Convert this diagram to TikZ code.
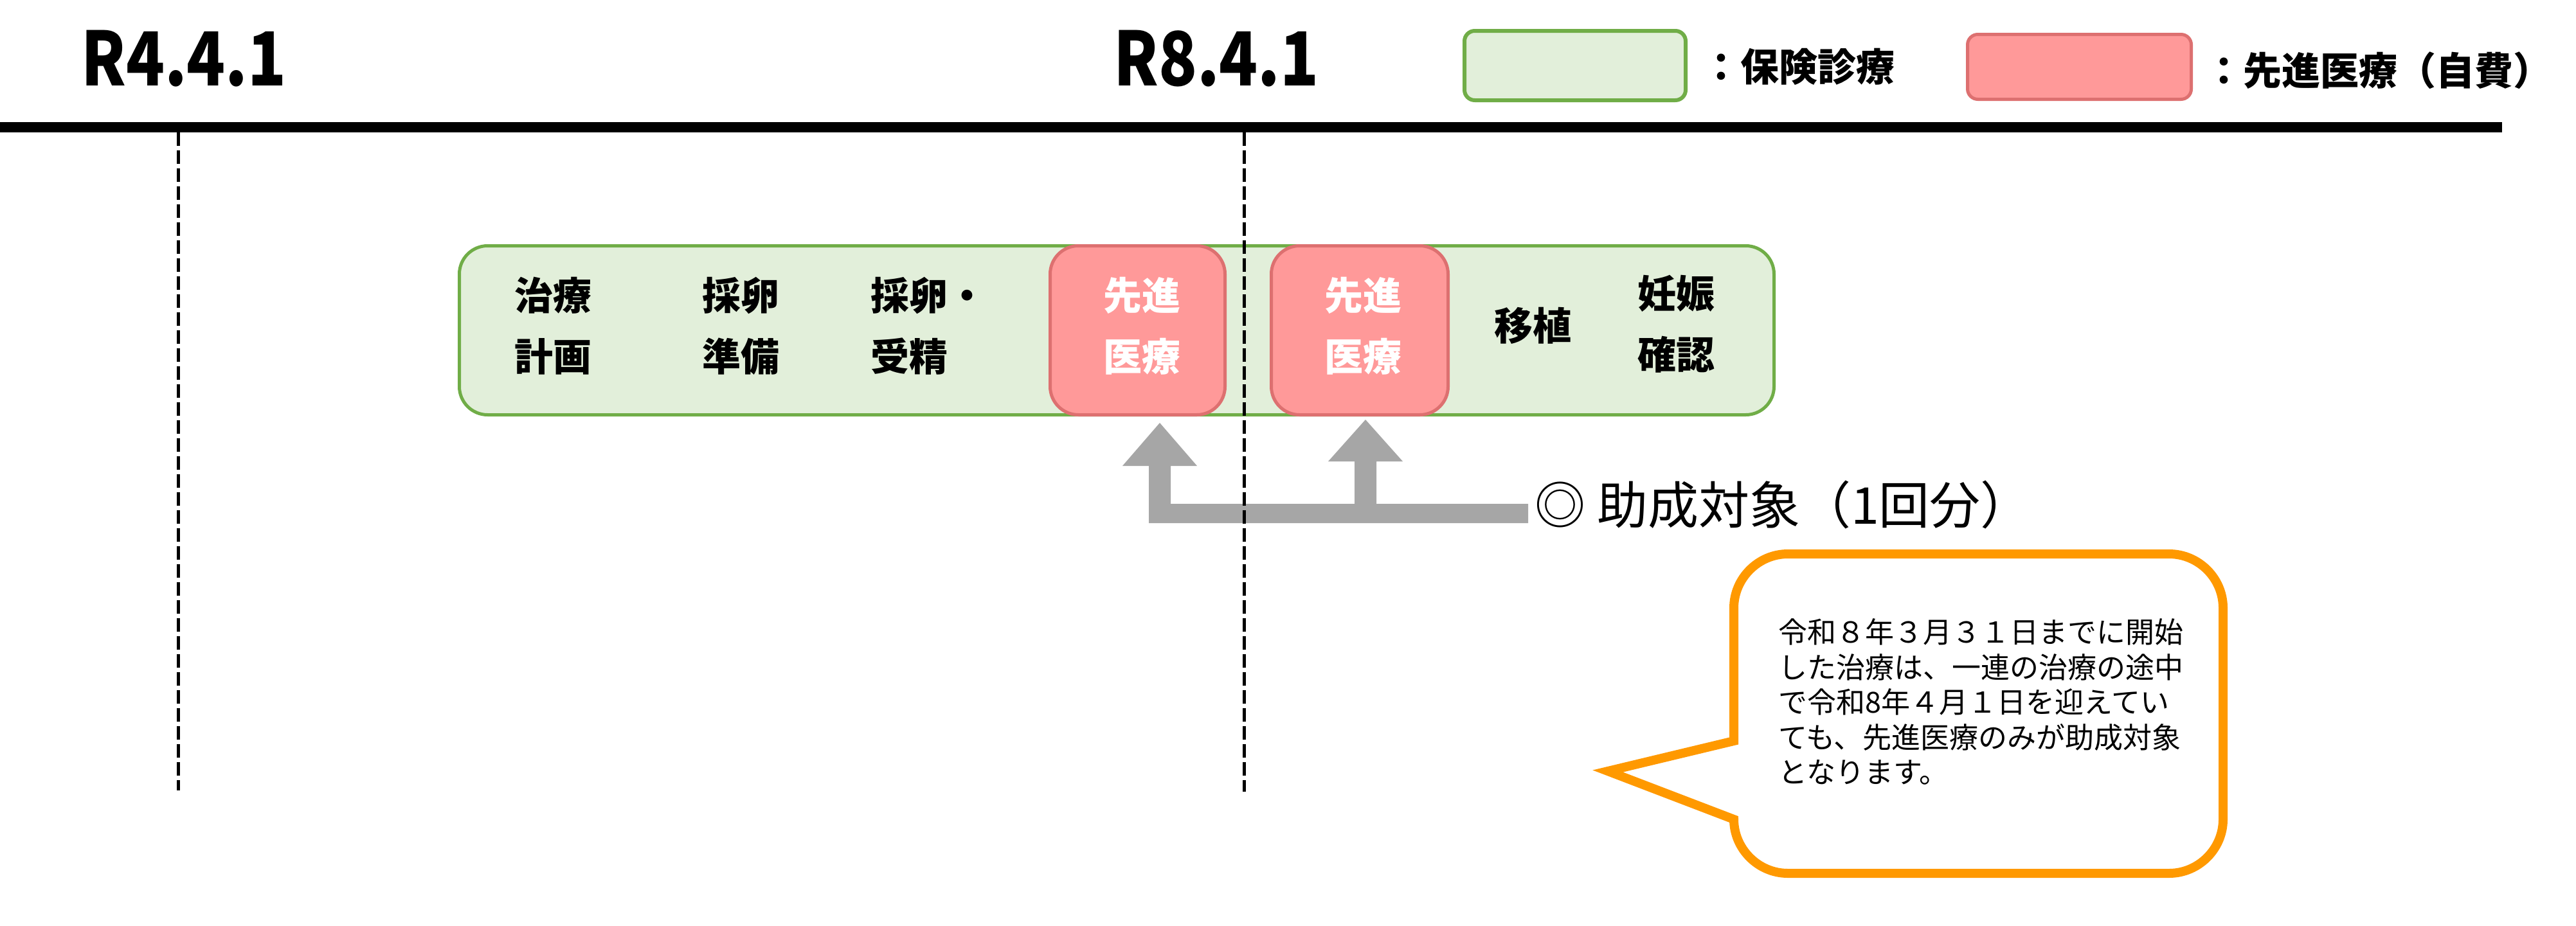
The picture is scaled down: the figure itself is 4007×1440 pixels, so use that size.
\documentclass[tikz,border=0pt]{standalone}
\usepackage{fontspec}
\setmainfont{Noto Sans CJK JP}
\definecolor{gfill}{HTML}{E2EFDA}
\definecolor{gline}{HTML}{70AD47}
\definecolor{rfill}{HTML}{FF9999}
\definecolor{rline}{HTML}{DD7070}
\definecolor{agray}{HTML}{A6A6A6}
\definecolor{corange}{HTML}{FF9900}
\tikzset{
  gbox/.style={draw=gline, fill=gfill, line width=2.5pt, rounded corners=22pt, inner sep=0pt},
  rbox/.style={draw=rline, fill=rfill, line width=2.5pt, rounded corners=22pt, inner sep=0pt},
  legg/.style={draw=gline, fill=gfill, line width=3pt, rounded corners=8pt, inner sep=0pt},
  legr/.style={draw=rline, fill=rfill, line width=2.5pt, rounded corners=8pt, inner sep=0pt},
  lbl/.style={font=\bfseries\fontsize{30pt}{47.5pt}\selectfont, align=center, inner sep=0pt},
  wlbl/.style={lbl, text=white},
  head/.style={font=\bfseries\fontsize{58pt}{60pt}\selectfont, inner sep=0pt},
  marker/.style={line width=2.5pt, dash pattern=on 10.5pt off 3.5pt},
  callout/.style={draw=corange, fill=white, line width=7pt, line join=miter},
  notetext/.style={font=\fontsize{22.5pt}{27.25pt}\selectfont, align=left, inner sep=0pt},
}
\begin{document}
\begin{tikzpicture}[x=0.5pt, y=-0.5pt]
\useasboundingbox (0,0) rectangle (4007,1440);

% headings
\node[head] (h1) at (286,91) {\scalebox{0.85}[1]{R4.4.1}};
\node[head] (h2) at (1892,91) {\scalebox{0.85}[1]{R8.4.1}};

% legend
\node[legg, minimum width=172pt, minimum height=54pt] (lg) at (2450,102) {};
\node[lbl, anchor=west] (lgt) at (2647,104) {：保険診療};
\node[legr, minimum width=174pt, minimum height=50.5pt] (lr) at (3234.5,104) {};
\node[lbl, anchor=west] (lrt) at (3429,110) {：先進医療（自費）};

% axis
\coordinate (axL) at (0,198);
\coordinate (axR) at (3892,198);
\draw[line width=8pt] (axL) -- (axR);

% main bar
\node[gbox, minimum width=1022.5pt, minimum height=131.5pt] (main) at (1737,514) {};
\node[rbox, minimum width=136pt, minimum height=131.5pt] (red1) at (1769.5,514) {};
\node[rbox, minimum width=137.5pt, minimum height=131.5pt] (red2) at (2115,514) {};

\node[lbl] (s1) at (860,507) {治療\\計画};
\node[lbl] (s2) at (1152,507) {採卵\\準備};
\node[lbl, align=left, anchor=west] (s3) at (1354,507) {採卵・\\受精};
\node[wlbl] (s4) at (1776,507) {先進\\医療};
\node[wlbl] (s5) at (2120,507) {先進\\医療};
\node[lbl] (s6) at (2384,507) {移植};
\node[lbl] (s7) at (2607,504) {妊娠\\確認};

% gray block arrows
\fill[agray] (1787,814) -- (1787,725) -- (1746,725) -- (1804,658) -- (1862,725)
  -- (1821,725) -- (1821,784) -- (2107,784) -- (2107,718) -- (2066,718)
  -- (2124,653) -- (2182,718) -- (2141,718) -- (2141,784) -- (2377,784)
  -- (2377,814) -- cycle;
\node[font=\fontsize{39.5pt}{41pt}\selectfont, inner sep=0pt, anchor=west] (aid) at (2387,785) {◎ 助成対象（1回分）};

% callout
\draw[callout] (2697,1153) -- (2697,946)
  .. controls (2697,900) and (2735,862) .. (2781,862)
  -- (3374,862)
  .. controls (3420,862) and (3458,900) .. (3458,946)
  -- (3458,1275)
  .. controls (3458,1321) and (3420,1359) .. (3374,1359)
  -- (2781,1359)
  .. controls (2735,1359) and (2697,1321) .. (2697,1275)
  -- (2501,1200) -- cycle;
\node[notetext, anchor=west] (note) at (2766,1092) {令和８年３月３１日までに開始\\した治療は、一連の治療の途中\\で令和8年４月１日を迎えてい\\ても、先進医療のみが助成対象\\となります。};

% date markers
\coordinate (m1t) at (277,206);
\coordinate (m1b) at (277,1230);
\coordinate (m2t) at (1935,206);
\coordinate (m2b) at (1935,1232);
\draw[marker] (m1t) -- (m1b);
\draw[marker] (m2t) -- (m2b);
\end{tikzpicture}
\end{document}
